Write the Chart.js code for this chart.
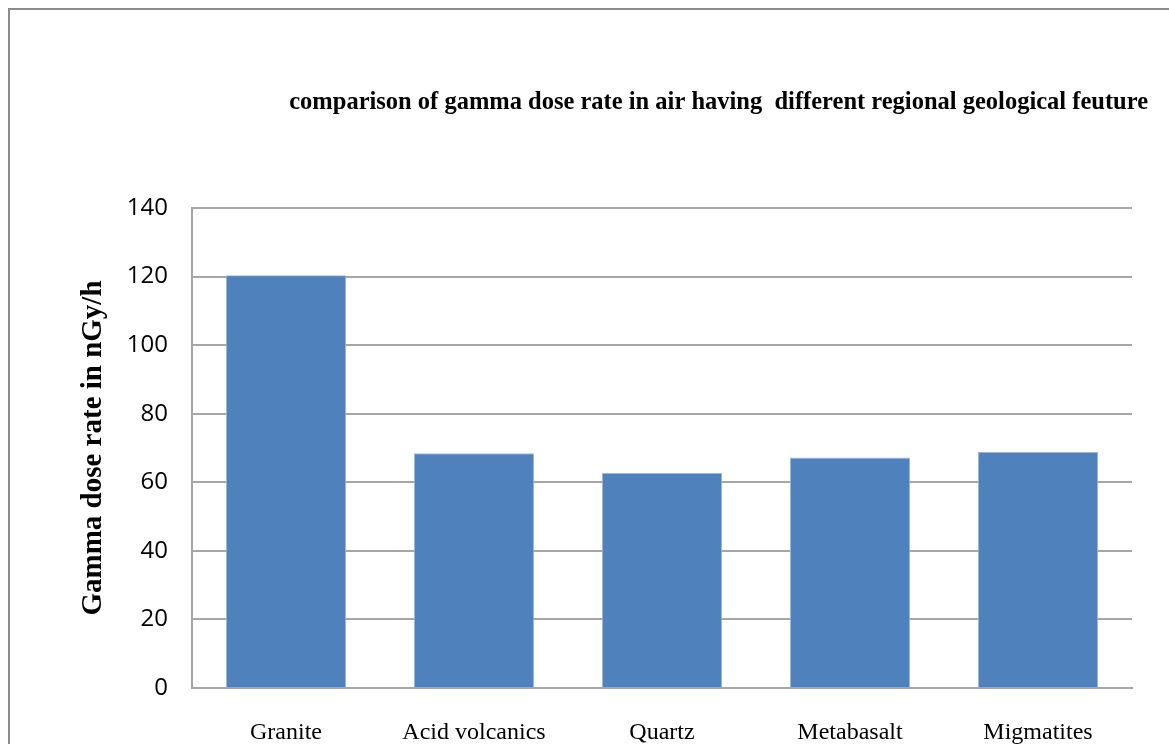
<!DOCTYPE html>
<html>
<head>
<meta charset="utf-8">
<script src="https://cdn.jsdelivr.net/npm/chart.js@4"></script>
<style>
  html, body { margin: 0; padding: 0; background: #fff; }
  #wrap { width: 1169px; height: 744px; }
</style>
</head>
<body>
<div id="wrap"><canvas id="doseChart"></canvas></div>
<script>
const categories = ["Granite", "Acid volcanics", "Quartz", "Metabasalt", "Migmatites"];
const doseRates = [120.4, 68.5, 62.7, 67.2, 68.8];
const yTicks = [0, 20, 40, 60, 80, 100, 120, 140];

const titleText = "comparison of gamma dose rate in air having  different regional geological feuture";

// frame + title, drawn like the spreadsheet export
const framePlugin = {
  id: "frame",
  beforeDraw(chart) {
    const { ctx, width, height } = chart;
    ctx.save();
    ctx.strokeStyle = "#8c8c8c";
    ctx.lineWidth = 2;
    ctx.beginPath();
    ctx.moveTo(9, height + 5);
    ctx.lineTo(9, 9);
    ctx.lineTo(width + 5, 9);
    ctx.stroke();
    ctx.restore();
  },
  afterDraw(chart) {
    const { ctx } = chart;
    ctx.save();
    ctx.font = "bold 24.5px 'Liberation Serif', serif";
    ctx.fillStyle = "#000";
    ctx.textAlign = "right";
    ctx.textBaseline = "middle";
    ctx.fillText(titleText, 1148, 103);
    ctx.restore();
  },
};

new Chart(document.getElementById("doseChart"), {
  type: "bar",
  data: {
    labels: categories,
    datasets: [
      {
        label: "Gamma dose rate",
        data: doseRates,
        backgroundColor: "#4F81BD",
        borderColor: "#9DB7DA",
        borderWidth: 1,
        barPercentage: 0.64,
        categoryPercentage: 1.0,
      },
    ],
  },
  options: {
    responsive: true,
    maintainAspectRatio: false,
    animation: false,
    layout: { padding: { left: 0, right: 37, top: 208, bottom: 0 } },
    plugins: {
      legend: { display: false },
      title: { display: false },
      tooltip: { enabled: false },
    },
    scales: {
      x: {
        grid: { display: false, drawTicks: false },
        border: { color: "#a6a6a6", width: 2 },
        ticks: {
          color: "#000",
          padding: 30,
          maxRotation: 0,
          autoSkip: false,
          font: { family: "'Liberation Serif', serif", size: 24 },
        },
        afterFit(scale) { scale.height = 56; },
      },
      y: {
        min: 0,
        max: 140,
        afterBuildTicks(scale) { scale.ticks = yTicks.map((v) => ({ value: v })); },
        grid: { color: "#a6a6a6", lineWidth: 2, drawTicks: false },
        border: { color: "#a6a6a6", width: 2 },
        ticks: {
          color: "#000",
          padding: 24,
          font: { family: "'Open Sans', sans-serif", size: 24 },
        },
        title: {
          display: true,
          text: "Gamma dose rate in nGy/h",
          color: "#000",
          padding: { top: 76, bottom: 0 },
          font: { family: "'Liberation Serif', serif", size: 29, weight: "bold" },
        },
        afterFit(scale) { scale.width = 192; },
      },
    },
  },
  plugins: [framePlugin],
});
</script>
</body>
</html>
